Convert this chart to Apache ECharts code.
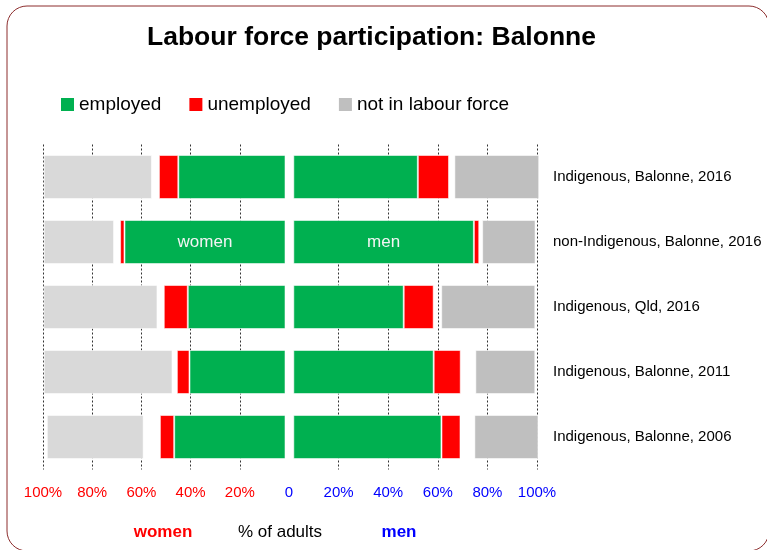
<!DOCTYPE html>
<html>
<head>
<meta charset="UTF-8">
<title>Labour force participation: Balonne</title>
	<script src="https://cdn.jsdelivr.net/npm/echarts@6/dist/echarts.min.js"></script>
</head>
<body style="margin:0">
	<div id="main" style="width: 767px;height:550px;"></div>
	<script type="text/javascript">
		// rows, top to bottom
		var categories = ['Indigenous, Balonne, 2016', 'non-Indigenous, Balonne, 2016',
			'Indigenous, Qld, 2016', 'Indigenous, Balonne, 2011', 'Indigenous, Balonne, 2006'];

		// women (% of adults)
		var womenEmployed = [44.2, 66.4, 40.3, 39.6, 45.9];
		var womenUnemployed = [8.0, 1.8, 9.9, 5.2, 5.9];
		var womenNotStated = [2.9, 2.5, 2.6, 1.8, 6.7];
		var womenNotInLF = [44.6, 29.0, 47.0, 53.1, 39.9];

		// men (% of adults)
		var menEmployed = [51.1, 74.1, 45.3, 57.6, 60.8];
		var menUnemployed = [12.8, 2.2, 12.3, 11.1, 7.8];
		var menNotStated = [2.2, 1.2, 3.1, 6.0, 5.7];
		var menNotInLF = [34.8, 21.9, 38.6, 24.6, 26.3];

		var pctTicks = [0, 20, 40, 60, 80, 100];

		var font = "'Liberation Sans', Arial, sans-serif";
		var border = { borderColor: 'rgba(255,255,255,0.55)', borderWidth: 1 };

		// label the big employed bar of row 2
		function tagged(arr, idx, text) {
			return arr.map(function (v, i) {
				if (i !== idx) return v;
				return { value: v, label: { show: true, formatter: text, color: '#f4f4f4', fontSize: 17, fontFamily: font } };
			});
		}

		function bar(name, data, color, side, extra) {
			var s = {
				name: name,
				type: 'bar',
				stack: side,
				xAxisIndex: side === 'L' ? 1 : 3,
				yAxisIndex: side === 'L' ? 0 : 1,
				barWidth: 44,
				clip: false,
				data: data,
				itemStyle: Object.assign({ color: color }, border)
			};
			return Object.assign(s, extra || {});
		}

	    var myChart = echarts.init(document.getElementById('main'));

		// dotted gridlines, none at 0
		var gridlines = { show: true, showMinLine: false, lineStyle: { color: '#333', type: [2, 2], width: 1 } };

		var option = {
			textStyle: { fontFamily: font },
			animation: false,
			graphic: [
				{ type: 'rect', shape: { x: 7, y: 6, width: 762, height: 545, r: 20 },
				  style: { fill: 'none', stroke: '#8c2d2d', lineWidth: 1 }, silent: true },
				{ type: 'text', x: 371.5, y: 38, style: { text: 'Labour force participation: Balonne',
				  font: 'bold 26.5px ' + font, fill: '#000', textAlign: 'center', textVerticalAlign: 'middle' } },
				{ type: 'text', x: 163, y: 532, style: { text: 'women', font: 'bold 17px ' + font,
				  fill: '#ff0000', textAlign: 'center', textVerticalAlign: 'middle' } },
				{ type: 'text', x: 280, y: 532, style: { text: '% of adults', font: '17px ' + font,
				  fill: '#000', textAlign: 'center', textVerticalAlign: 'middle' } },
				{ type: 'text', x: 399, y: 532, style: { text: 'men', font: 'bold 17px ' + font,
				  fill: '#0000ff', textAlign: 'center', textVerticalAlign: 'middle' } }
			],
			legend: {
				left: 56, top: 90,
				itemWidth: 13, itemHeight: 13, itemGap: 28,
				icon: 'rect',
				textStyle: { fontSize: 19, color: '#000', fontFamily: font },
				data: [
					{ name: 'employed', itemStyle: { color: '#00b050', borderWidth: 0 } },
					{ name: 'unemployed', itemStyle: { color: '#ff0000', borderWidth: 0 } },
					{ name: 'not in labour force', itemStyle: { color: '#bfbfbf', borderWidth: 0 } }
				]
			},
			grid: [
				{ left: 43, width: 246, top: 144.5, height: 325 },
				{ left: 289, width: 248, top: 144.5, height: 325 }
			],
			xAxis: [
				{ gridIndex: 0, type: 'value', inverse: true, min: pctTicks[0], max: pctTicks[5], interval: 20,
				  axisLine: { show: false }, axisTick: { show: false }, splitLine: gridlines,
				  axisLabel: { color: '#ff0000', fontSize: 15, margin: 16,
					formatter: function (v) { return v === 0 ? '' : v + '%'; } } },
				{ gridIndex: 0, type: 'value', inverse: true, min: -1.44, max: 100, show: false },
				{ gridIndex: 1, type: 'value', min: pctTicks[0], max: pctTicks[5], interval: 20,
				  axisLine: { show: false }, axisTick: { show: false }, splitLine: gridlines,
				  axisLabel: { color: '#0000ff', fontSize: 15, margin: 16,
					formatter: function (v) { return v === 0 ? '0' : v + '%'; } } },
				{ gridIndex: 1, type: 'value', min: -1.77, max: 100, show: false }
			],
			yAxis: [
				{ gridIndex: 0, type: 'category', data: categories, inverse: true, show: false },
				{ gridIndex: 1, type: 'category', data: categories, inverse: true, position: 'right',
				  axisLine: { show: false }, axisTick: { show: false },
				  axisLabel: { color: '#000', fontSize: 15, margin: 16, align: 'left' } }
			],
			series: [
				bar('employed', tagged(womenEmployed, 1, 'women'), '#00b050', 'L'),
				bar('unemployed', womenUnemployed, '#ff0000', 'L'),
				bar('not stated', womenNotStated, 'transparent', 'L', { itemStyle: { color: 'transparent' } }),
				bar('not in labour force', womenNotInLF, '#d9d9d9', 'L'),
				bar('employed', tagged(menEmployed, 1, 'men'), '#00b050', 'R'),
				bar('unemployed', menUnemployed, '#ff0000', 'R'),
				bar('not stated', menNotStated, 'transparent', 'R', { itemStyle: { color: 'transparent' } }),
				bar('not in labour force', menNotInLF, '#bfbfbf', 'R')
			]
		};

		myChart.setOption(option);
    </script>
</body>
</html>
